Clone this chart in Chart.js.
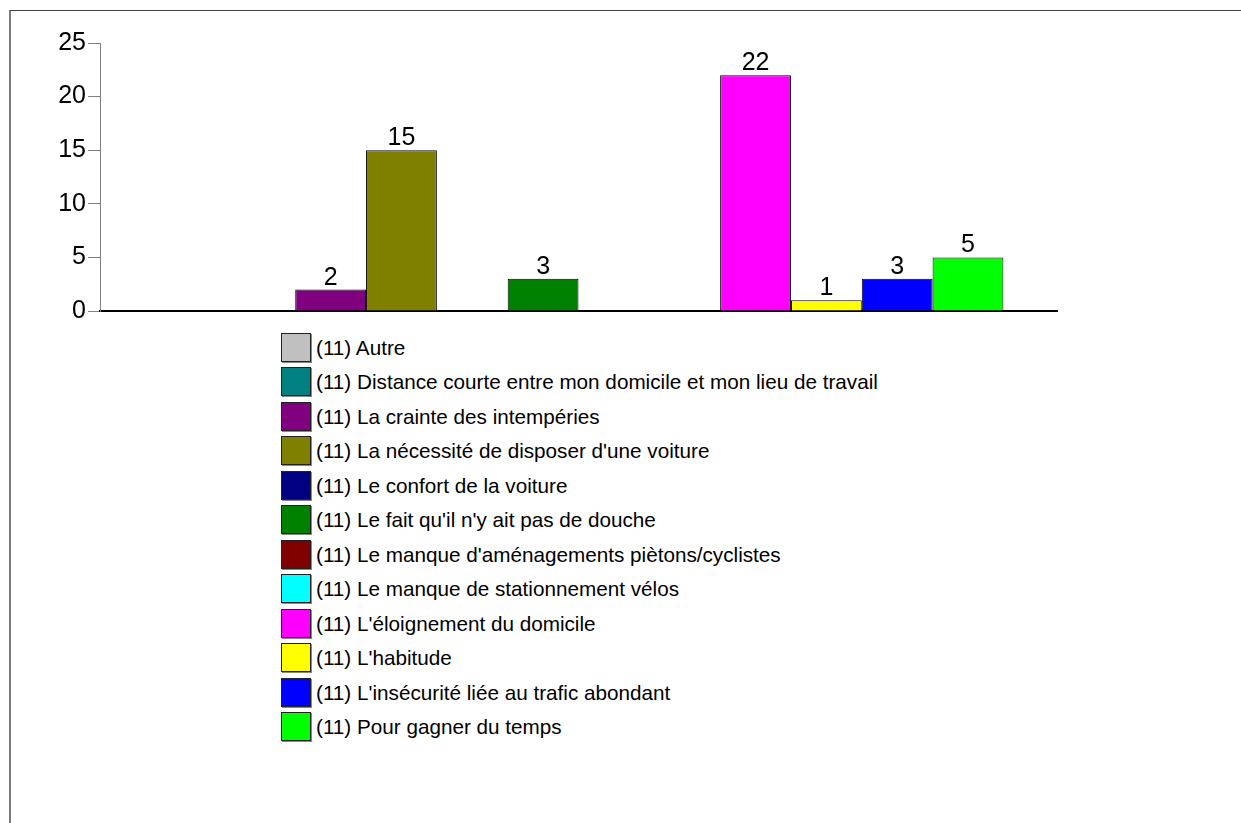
<!DOCTYPE html>
<html>
<head>
<meta charset="utf-8">
<script src="https://cdn.jsdelivr.net/npm/chart.js@4"></script>
<style>
  html, body { margin: 0; padding: 0; background: #fff; }
  body { width: 1241px; height: 823px; position: relative; overflow: hidden; font-family: "Liberation Sans", Arial, sans-serif; }
  #frame { position: absolute; left: 9px; top: 10px; width: 1240px; height: 820px; border-top: 1px solid #404040; border-left: 2px solid #7a7a7a; }
  #c { position: absolute; left: 0; top: 0; }
  #legend { position: absolute; left: 281px; top: 330px; }
  .row { display: flex; align-items: center; height: 34.5px; }
  .box { width: 28px; height: 27px; border: 1px solid #222; box-shadow: 1px 1px 0 #888; }
  .txt { margin-left: 5px; font-size: 20.7px; color: #000; white-space: nowrap; line-height: 29px; }
</style>
</head>
<body>
<div id="frame"></div>
<canvas id="c" width="1241" height="330"></canvas>
<div id="legend"></div>
<script>
const seriesLabels = [
  "(11) Autre",
  "(11) Distance courte entre mon domicile et mon lieu de travail",
  "(11) La crainte des intempéries",
  "(11) La nécessité de disposer d'une voiture",
  "(11) Le confort de la voiture",
  "(11) Le fait qu'il n'y ait pas de douche",
  "(11) Le manque d'aménagements piètons/cyclistes",
  "(11) Le manque de stationnement vélos",
  "(11) L'éloignement du domicile",
  "(11) L'habitude",
  "(11) L'insécurité liée au trafic abondant",
  "(11) Pour gagner du temps"
];
const seriesValues = [0, 0, 2, 15, 0, 3, 0, 0, 22, 1, 3, 5];
const seriesColors = ["#C0C0C0", "#008080", "#800080", "#808000", "#000080", "#008000",
                      "#800000", "#00FFFF", "#FF00FF", "#FFFF00", "#0000FF", "#00FF00"];
const yTicks = [0, 5, 10, 15, 20, 25];

const FONT = '"Liberation Sans", Arial, sans-serif';

const datasets = seriesLabels.map((lab, i) => ({
  label: lab,
  data: [seriesValues[i]],
  backgroundColor: seriesColors[i],
  borderColor: "#000",
  borderWidth: 1,
  barPercentage: 1.0,
  categoryPercentage: 0.888
}));

const valueLabels = {
  id: 'valueLabels',
  afterDatasetsDraw(chart) {
    const ctx = chart.ctx;
    ctx.save();
    ctx.fillStyle = '#000';
    ctx.font = '25px ' + FONT;
    ctx.textAlign = 'center';
    ctx.textBaseline = 'alphabetic';
    chart.data.datasets.forEach((ds, i) => {
      const v = ds.data[0];
      if (!v) return;
      const bar = chart.getDatasetMeta(i).data[0];
      ctx.fillText(String(v), bar.x, bar.y - 5);
    });
    ctx.restore();
  }
};

new Chart(document.getElementById('c'), {
  type: 'bar',
  data: { labels: [''], datasets },
  options: {
    responsive: false,
    animation: false,
    devicePixelRatio: 1,
    layout: { padding: { left: 0, right: 184, top: 43, bottom: 19 } },
    plugins: { legend: { display: false }, tooltip: { enabled: false } },
    scales: {
      x: {
        grid: { display: false },
        border: { display: true, color: '#000', width: 2 },
        ticks: { display: false },
        afterFit: s => { s.height = 0; }
      },
      y: {
        min: 0, max: 25,
        afterBuildTicks: s => { s.ticks = yTicks.map(v => ({ value: v })); },
        ticks: { color: '#000', font: { size: 25, family: FONT }, padding: 2 },
        grid: { drawOnChartArea: false, drawTicks: true, tickLength: 12, color: '#808080' },
        border: { color: '#808080', width: 1 },
        afterFit: s => { s.width = 100; }
      }
    }
  },
  plugins: [valueLabels]
});

const leg = document.getElementById('legend');
seriesLabels.forEach((lab, i) => {
  const row = document.createElement('div');
  row.className = 'row';
  const box = document.createElement('div');
  box.className = 'box';
  box.style.background = seriesColors[i];
  const t = document.createElement('div');
  t.className = 'txt';
  t.textContent = lab;
  row.appendChild(box);
  row.appendChild(t);
  leg.appendChild(row);
});
</script>
</body>
</html>
